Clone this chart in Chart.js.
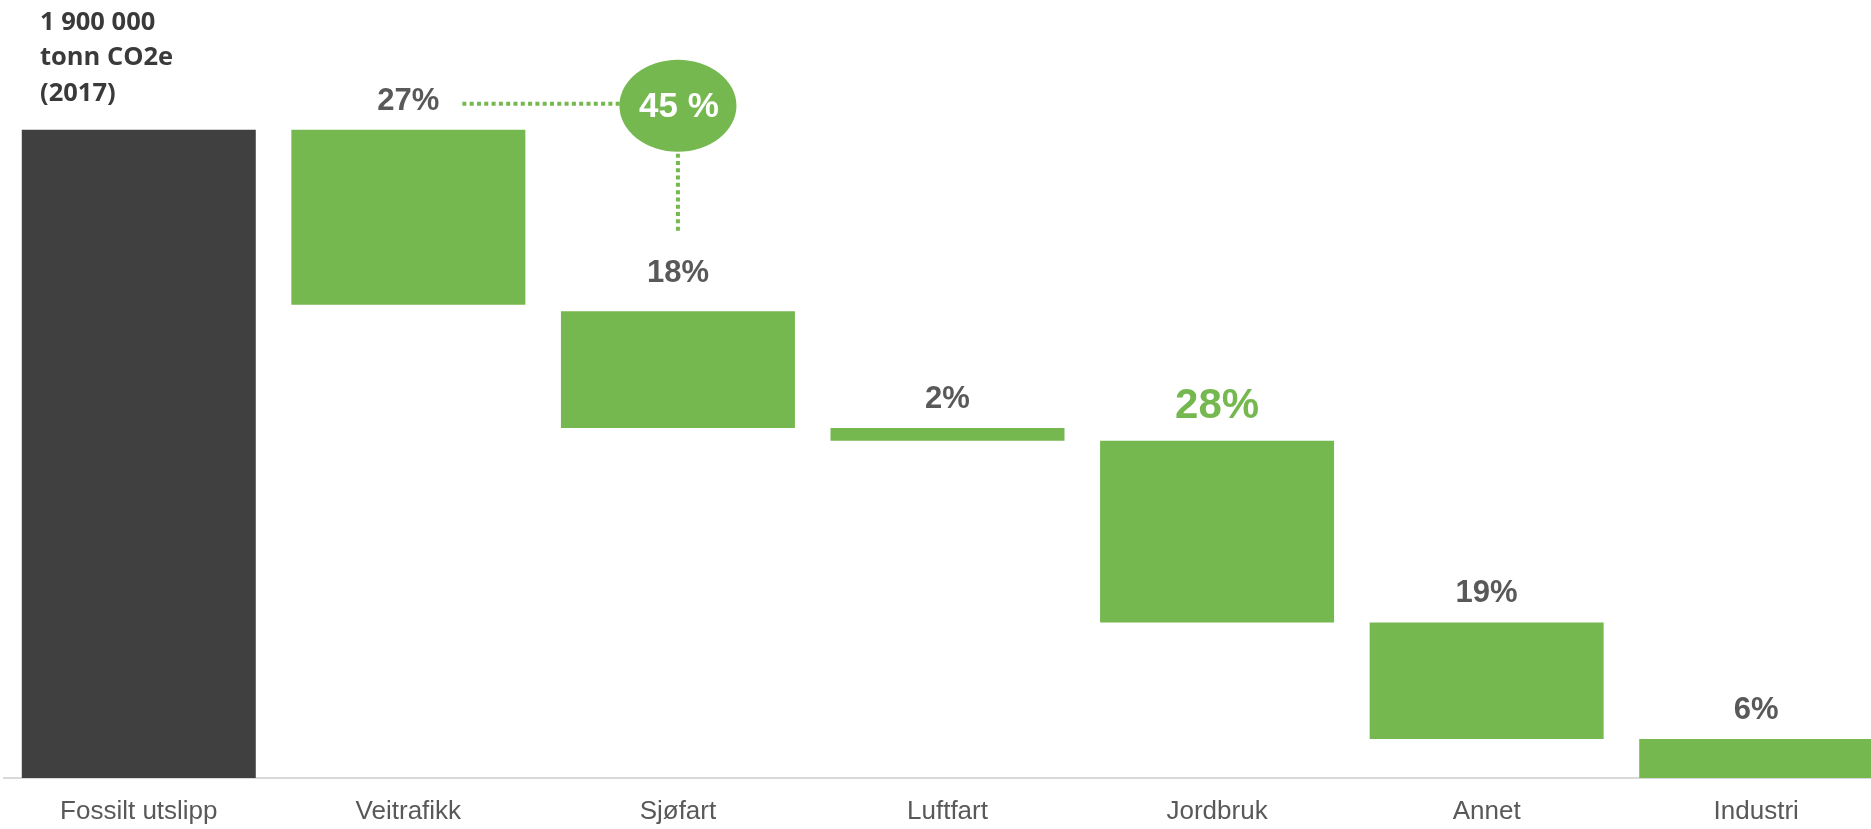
<!DOCTYPE html>
<html>
<head>
<meta charset="utf-8">
<script src="https://cdn.jsdelivr.net/npm/chart.js@4.4.1/dist/chart.umd.min.js"></script>
<style>
  html, body { margin: 0; padding: 0; background: #fff; overflow: hidden; }
  #wrap { width: 1895px; height: 829px; }
</style>
</head>
<body>
<div id="wrap"><canvas id="myChart" width="1895" height="829"></canvas></div>
<script>
// kategorier og verdier (prosent av totalt utslipp)
const kategorier = ["Fossilt utslipp", "Veitrafikk", "Sjøfart", "Luftfart", "Jordbruk", "Annet", "Industri"];
const startVerdi = [0, 73, 54, 52, 24, 6, 0];
const sluttVerdi = [100, 100, 72, 54, 52, 24, 6];
const andelTekst = ["", "27%", "18%", "2%", "28%", "19%", "6%"];
const totalTekst = ["1 900 000", "tonn CO2e", "(2017)"];
const markertTekst = "45 %";
const yMaks = 120;

const gronn = "#75B84F";
const mork = "#404040";
const gra = "#595959";

// lager [fra, til] for flytende stolper
const stolper = kategorier.map((k, i) => [startVerdi[i], sluttVerdi[i]]);
const farger = kategorier.map((k, i) => (i === 0 ? mork : gronn));

const tekstPlugin = {
  id: "tekstPlugin",
  afterDatasetsDraw(chart) {
    const ctx = chart.ctx;
    const x = chart.scales.x;
    const y = chart.scales.y;
    ctx.save();

    // prosent over hver stolpe
    ctx.textAlign = "center";
    ctx.textBaseline = "alphabetic";
    andelTekst.forEach((t, i) => {
      if (!t) return;
      let avstand = 20;
      if (i === 2) avstand = 29;
      if (i === 4) avstand = 23;
      if (i === 4) {
        ctx.fillStyle = gronn;
        ctx.font = "bold 42px 'Liberation Sans', Arial, sans-serif";
      } else {
        ctx.fillStyle = gra;
        ctx.font = "bold 31px 'Liberation Sans', Arial, sans-serif";
      }
      ctx.fillText(t, x.getPixelForValue(i), y.getPixelForValue(sluttVerdi[i]) - avstand);
    });

    // totalen over den mørke stolpen
    const topp = y.getPixelForValue(sluttVerdi[0]);
    ctx.textAlign = "left";
    ctx.fillStyle = "#3a3a3a";
    ctx.font = "bold 25.5px 'Open Sans', sans-serif";
    totalTekst.forEach((t, j) => {
      ctx.fillText(t, 40, topp - 100 + j * 35.5);
    });

    // sirkel med 45 % og stiplede linjer
    const cx = x.getPixelForValue(2);
    const cy = y.getPixelForValue(sluttVerdi[1]) - 24;
    ctx.font = "bold 31px 'Liberation Sans', Arial, sans-serif";
    const venstre = x.getPixelForValue(1) + ctx.measureText(andelTekst[1]).width / 2 + 23;
    ctx.strokeStyle = gronn;
    ctx.lineWidth = 4;
    ctx.setLineDash([4, 3.3]);
    ctx.beginPath();
    ctx.moveTo(venstre, cy - 2);
    ctx.lineTo(cx - 58, cy - 2);
    ctx.stroke();
    ctx.beginPath();
    ctx.moveTo(cx, cy + 48);
    ctx.lineTo(cx, y.getPixelForValue(sluttVerdi[2]) - 78);
    ctx.stroke();
    ctx.setLineDash([]);

    ctx.fillStyle = gronn;
    ctx.beginPath();
    ctx.ellipse(cx, cy, 58.5, 46, 0, 0, Math.PI * 2);
    ctx.fill();
    ctx.fillStyle = "#ffffff";
    ctx.textAlign = "center";
    ctx.font = "bold 35px 'Liberation Sans', Arial, sans-serif";
    ctx.fillText(markertTekst, cx + 1, cy + 11.5);
    ctx.restore();
  }
};

const config = {
  type: "bar",
  data: {
    labels: kategorier,
    datasets: [
      {
        data: stolper,
        backgroundColor: farger,
        borderWidth: 0,
        categoryPercentage: 1,
        barPercentage: 0.868
      }
    ]
  },
  options: {
    responsive: false,
    animation: false,
    devicePixelRatio: 1,
    layout: { padding: { left: 4, right: 4, top: 0, bottom: 0 } },
    plugins: { legend: { display: false }, tooltip: { enabled: false } },
    scales: {
      x: {
        grid: { display: false, drawTicks: false },
        border: { display: true, color: "#d9d9d9", width: 2 },
        ticks: {
          color: gra,
          padding: 18,
          font: { family: "'Liberation Sans', Arial, sans-serif", size: 26 }
        },
        afterFit: (s) => { s.height = 51; }
      },
      y: {
        display: false,
        min: 0,
        max: yMaks
      }
    }
  },
  plugins: [tekstPlugin]
};

new Chart(document.getElementById("myChart"), config);
</script>
</body>
</html>
